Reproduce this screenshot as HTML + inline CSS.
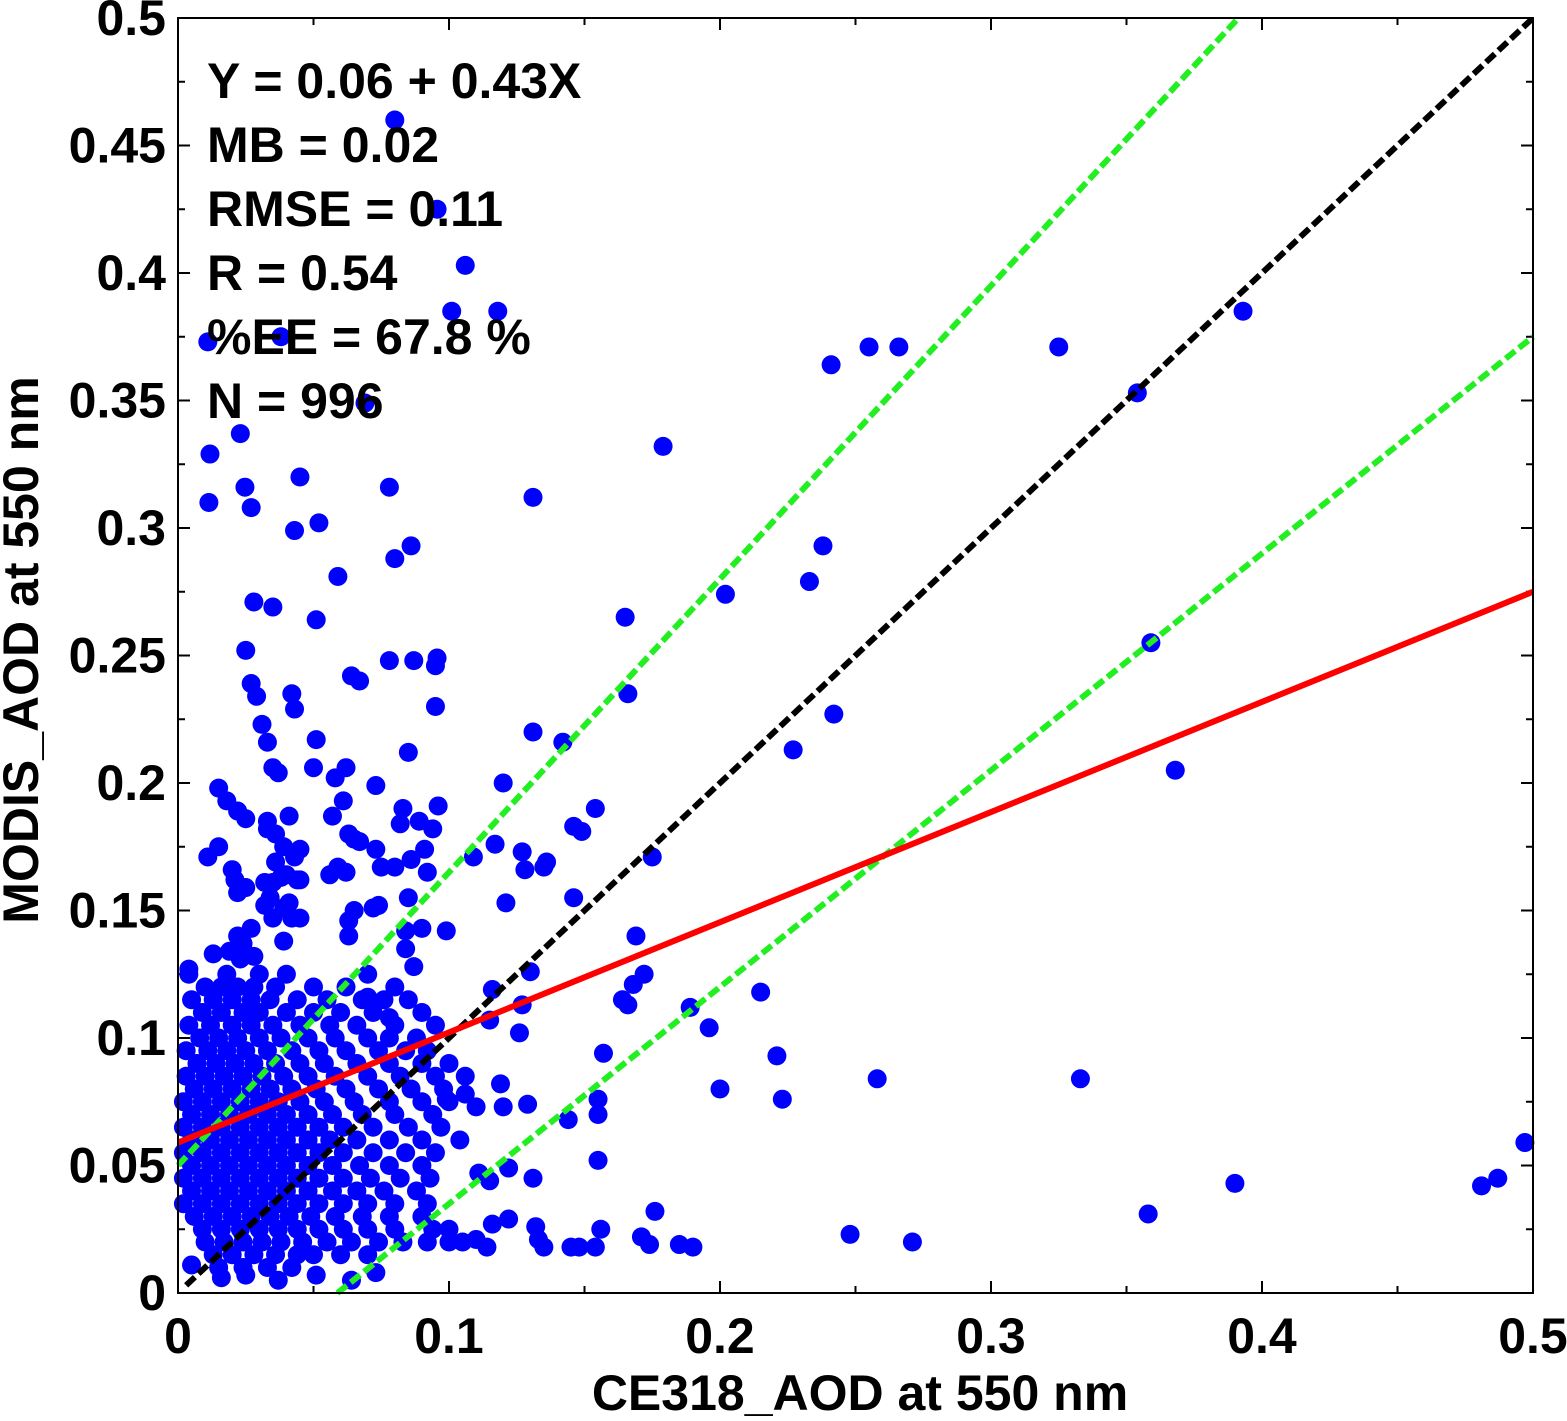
<!DOCTYPE html>
<html><head><meta charset="utf-8"><style>
html,body{margin:0;padding:0;background:#fff;}
svg{display:block;font-family:"Liberation Sans",Arial,sans-serif;font-weight:bold;}
</style></head><body>
<svg id="chart" width="1567" height="1421" viewBox="0 0 1567 1421" xmlns="http://www.w3.org/2000/svg">
<g id="ticks"></g>
<g id="dots"></g>
<g id="lines"></g>
<rect x="178" y="18" width="1355" height="1275" fill="none" stroke="#000" stroke-width="2"/>
<g id="labels" font-size="50"></g>
<g font-size="50">
<text x="207" y="98">Y = 0.06 + 0.43X</text>
<text x="207" y="162">MB = 0.02</text>
<text x="207" y="226">RMSE = 0.11</text>
<text x="207" y="290">R = 0.54</text>
<text x="207" y="354">%EE = 67.8 %</text>
<text x="207" y="418">N = 996</text>
</g>
<text x="860" y="1410" font-size="50" text-anchor="middle">CE318_AOD at 550 nm</text>
<text transform="translate(38,650) rotate(-90)" font-size="50" text-anchor="middle">MODIS_AOD at 550 nm</text>
</svg>
<script>
const xTickVals = [0, 0.1, 0.2, 0.3, 0.4, 0.5];
const xTickLabels = ["0", "0.1", "0.2", "0.3", "0.4", "0.5"];
const yTickVals = [0, 0.05, 0.1, 0.15, 0.2, 0.25, 0.3, 0.35, 0.4, 0.45, 0.5];
const yTickLabels = ["0", "0.05", "0.1", "0.15", "0.2", "0.25", "0.3", "0.35", "0.4", "0.45", "0.5"];
const fitIntercept = 0.059, fitSlope = 0.432;
const eeAbs = 0.05, eeRel = 0.15;
const scatterPairs = [
[0.080,0.460],[0.0956,0.425],[0.106,0.403],[0.101,0.385],[0.118,0.385],[0.011,0.373],[0.038,0.375],[0.069,0.349],
[0.0118,0.329],[0.023,0.337],[0.0114,0.310],[0.0247,0.316],[0.027,0.308],[0.045,0.320],[0.043,0.299],[0.052,0.302],
[0.078,0.316],[0.086,0.293],[0.080,0.288],[0.059,0.281],[0.028,0.271],[0.035,0.269],[0.051,0.264],[0.025,0.252],
[0.078,0.248],[0.087,0.248],[0.0956,0.249],[0.095,0.246],[0.064,0.242],[0.067,0.240],[0.027,0.239],[0.029,0.234],
[0.042,0.235],[0.043,0.229],[0.095,0.230],[0.031,0.223],[0.033,0.216],[0.051,0.217],[0.035,0.206],[0.037,0.204],
[0.050,0.206],[0.062,0.206],[0.058,0.202],[0.073,0.199],[0.085,0.212],[0.131,0.312],[0.179,0.332],[0.165,0.265],
[0.166,0.235],[0.131,0.220],[0.142,0.216],[0.202,0.274],[0.233,0.279],[0.238,0.293],[0.241,0.364],[0.255,0.371],
[0.266,0.371],[0.325,0.371],[0.354,0.353],[0.393,0.385],[0.359,0.255],[0.368,0.205],[0.242,0.227],[0.227,0.213],
[0.120,0.200],[0.154,0.190],[0.146,0.183],[0.149,0.181],[0.136,0.169],[0.135,0.167],[0.127,0.173],[0.128,0.166],
[0.117,0.176],[0.109,0.171],[0.146,0.155],[0.121,0.153],[0.175,0.171],[0.169,0.140],[0.172,0.125],[0.168,0.121],
[0.164,0.115],[0.166,0.113],[0.130,0.126],[0.116,0.119],[0.127,0.113],[0.115,0.107],[0.126,0.102],[0.157,0.094],
[0.189,0.112],[0.196,0.104],[0.215,0.118],[0.221,0.093],[0.200,0.080],[0.223,0.076],[0.258,0.084],[0.333,0.084],
[0.497,0.059],[0.487,0.045],[0.481,0.042],[0.390,0.043],[0.358,0.031],[0.248,0.023],[0.271,0.020],[0.176,0.032],
[0.171,0.022],[0.174,0.019],[0.185,0.019],[0.190,0.018],[0.155,0.052],[0.155,0.076],[0.155,0.070],[0.144,0.068],
[0.131,0.045],[0.129,0.074],[0.120,0.073],[0.119,0.082],[0.115,0.044],[0.111,0.047],[0.122,0.049],[0.122,0.029],
[0.116,0.027],[0.132,0.026],[0.133,0.021],[0.135,0.018],[0.145,0.018],[0.148,0.018],[0.154,0.018],[0.156,0.025],
[0.114,0.018],[0.110,0.021],[0.104,0.060],[0.106,0.078],[0.110,0.073],[0.099,0.076],[0.073,0.008],[0.064,0.005],
[0.051,0.007],[0.037,0.005],[0.025,0.007],[0.016,0.006],[0.005,0.011],
[0.099,0.142],[0.090,0.143],[0.084,0.142],[0.092,0.165],[0.091,0.174],[0.094,0.182],[0.089,0.185],[0.096,0.191],
[0.083,0.190],[0.082,0.184],[0.086,0.170],[0.085,0.155],[0.080,0.167],[0.075,0.167],[0.084,0.135],[0.087,0.128],
[0.074,0.152],[0.072,0.151],[0.063,0.146],[0.063,0.140],[0.065,0.150],[0.062,0.165],[0.056,0.164],[0.059,0.167],
[0.065,0.178],[0.063,0.180],[0.067,0.177],[0.057,0.187],[0.061,0.193],[0.073,0.174],[0.045,0.174],[0.039,0.175],
[0.041,0.187],[0.036,0.180],[0.033,0.182],[0.033,0.185],[0.025,0.186],[0.022,0.189],[0.018,0.193],[0.015,0.198],
[0.015,0.175],[0.011,0.171],[0.020,0.166],[0.021,0.162],[0.022,0.157],[0.025,0.159],[0.032,0.161],[0.035,0.161],
[0.038,0.163],[0.040,0.164],[0.044,0.162],[0.045,0.162],[0.043,0.171],[0.036,0.169],[0.032,0.152],[0.034,0.155],
[0.039,0.151],[0.041,0.153],[0.035,0.147],[0.042,0.147],[0.045,0.147],[0.027,0.143],[0.022,0.140],[0.024,0.137],
[0.039,0.138],[0.019,0.134],[0.013,0.133],[0.023,0.131],[0.004,0.127],[0.028,0.132],[0.070,0.116],[0.078,0.108]
];
const clusterY = [0.125,0.12,0.115,0.11,0.105,0.1,0.095,0.09,0.085,0.08,0.075,0.07,0.065,0.06,0.055,0.05,0.045,0.04,0.035,0.03,0.025,0.02,0.015,0.01];
const clusterX = [
[0.004,0.018,0.03,0.04,0.07],
[0.01,0.016,0.022,0.028,0.036,0.05,0.062,0.08],
[0.005,0.013,0.02,0.027,0.034,0.044,0.055,0.068,0.076,0.085],
[0.009,0.016,0.024,0.03,0.04,0.05,0.06,0.072,0.09],
[0.004,0.012,0.02,0.027,0.035,0.045,0.056,0.066,0.08,0.095],
[0.008,0.015,0.022,0.03,0.038,0.048,0.058,0.07,0.078,0.088],
[0.003,0.011,0.018,0.025,0.033,0.042,0.052,0.062,0.074,0.084,0.092],
[0.007,0.014,0.021,0.028,0.036,0.045,0.054,0.066,0.078,0.09,0.1],
[0.003,0.01,0.017,0.024,0.031,0.039,0.048,0.058,0.07,0.082,0.095,0.106],
[0.006,0.013,0.02,0.027,0.034,0.042,0.051,0.062,0.074,0.086,0.098],
[0.002,0.009,0.016,0.023,0.03,0.037,0.045,0.054,0.065,0.078,0.09,0.1],
[0.005,0.012,0.019,0.026,0.033,0.04,0.048,0.057,0.068,0.08,0.094],
[0.002,0.009,0.016,0.023,0.03,0.037,0.044,0.052,0.061,0.072,0.085,0.097],
[0.005,0.012,0.019,0.026,0.033,0.04,0.048,0.056,0.066,0.078,0.09],
[0.002,0.009,0.016,0.023,0.03,0.037,0.044,0.052,0.061,0.072,0.084,0.095],
[0.005,0.012,0.019,0.026,0.033,0.04,0.048,0.057,0.067,0.078,0.09],
[0.002,0.009,0.016,0.023,0.03,0.037,0.044,0.052,0.061,0.071,0.082,0.093],
[0.005,0.012,0.019,0.026,0.033,0.04,0.048,0.057,0.066,0.076,0.088],
[0.002,0.009,0.016,0.023,0.03,0.037,0.044,0.052,0.061,0.07,0.08,0.092],
[0.006,0.013,0.02,0.027,0.034,0.041,0.049,0.058,0.068,0.078,0.09],
[0.009,0.016,0.023,0.03,0.037,0.044,0.052,0.061,0.07,0.08,0.094,0.1],
[0.01,0.017,0.024,0.031,0.038,0.046,0.055,0.064,0.074,0.083,0.092,0.1,0.105],
[0.013,0.02,0.028,0.036,0.044,0.05,0.06,0.07],
[0.015,0.024,0.033,0.042]
];
const NS = "http://www.w3.org/2000/svg";
const X0 = 178, X1 = 1533, Y0 = 1293, Y1 = 18;
function xs(v){ return X0 + (X1 - X0) * v / 0.5; }
function ys(v){ return Y0 - (Y0 - Y1) * v / 0.5; }
function mk(tag, attrs, parent){ const e = document.createElementNS(NS, tag); for (const k in attrs) e.setAttribute(k, attrs[k]); parent.appendChild(e); return e; }

const tg = document.getElementById('ticks');
for (let i = 0; i <= 10; i++) {
  const v = i * 0.05, px = xs(v), L = (i % 2 === 0) ? 12 : 7;
  const a = mk('line', {x1:px, y1:Y0, x2:px, y2:Y0-L, stroke:'#000','stroke-width':2}, tg);
  
  
  const b = mk('line', {x1:px, y1:Y1, x2:px, y2:Y1+L, stroke:'#000','stroke-width':2}, tg);
  
  
}
for (let i = 0; i <= 20; i++) {
  const v = i * 0.025, py = ys(v), L = (i % 2 === 0) ? 12 : 7;
  const a = mk('line', {x1:X0, y1:py, x2:X0+L, y2:py, stroke:'#000','stroke-width':2}, tg);
  
  
  const b = mk('line', {x1:X1, y1:py, x2:X1-L, y2:py, stroke:'#000','stroke-width':2}, tg);
  
  
}
const lg = document.getElementById('labels');
xTickVals.forEach((v, i) => {
  const t = mk('text', {x:xs(v), y:1353, 'text-anchor':'middle'}, lg);
  t.textContent = xTickLabels[i];
  
  
});
yTickVals.forEach((v, i) => {
  const t = mk('text', {x:166, y:ys(v)+17, 'text-anchor':'end'}, lg);
  t.textContent = yTickLabels[i];
  
  
});

const dg = document.getElementById('dots');
function dot(x, y){
  const c = mk('circle', {cx:xs(x), cy:ys(y), r:9.5, fill:'#0000ff'}, dg);
  
  
}
clusterY.forEach((y, i) => clusterX[i].forEach(x => dot(x, y)));
scatterPairs.forEach(p => dot(p[0], p[1]));

const ln = document.getElementById('lines');
function seg(xa, ya, xb, yb, color, dash, name){
  const l = mk('line', {x1:xs(xa), y1:ys(ya), x2:xs(xb), y2:ys(yb), stroke:color, 'stroke-width':6}, ln);
  if (dash) l.setAttribute('stroke-dasharray', dash);
  
  
}
const upSlope = 1 + eeRel, loSlope = 1 - eeRel;
seg(0, eeAbs, (0.5 - eeAbs) / upSlope, 0.5, '#22ee22', '12,5', 'ee-upper-line');
seg(eeAbs / loSlope, 0, 0.5, loSlope * 0.5 - eeAbs, '#22ee22', '12,5', 'ee-lower-line');
seg(0.003, 0.003, 0.5, 0.5, '#000', '12,5', 'one-to-one-line');
seg(0, fitIntercept, 0.5, fitIntercept + fitSlope * 0.5, '#ff0000', null, 'regression-line');
</script>
</body></html>
